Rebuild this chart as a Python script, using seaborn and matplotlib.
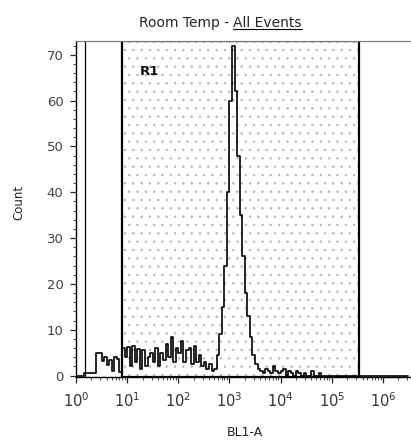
import matplotlib
matplotlib.use("Agg")
import matplotlib.pyplot as plt
import matplotlib.ticker as mticker
from matplotlib.lines import Line2D
import seaborn as sns
import numpy as np

# histogram channels: 20 per decade, from 10^0 to 10^6.5 (log10 units)
bin_width_log = 0.05
bin_range_log = (0.0, 6.5)

# counts, one per channel
counts = [
    0, 0, 0, 0.5, 0.5, 0.5, 0.5, 0.5, 5, 5,
    3.2, 4, 2.4, 3.4, 1, 4, 3.6, 0.8, 6, 4,
    6.2, 2, 6.5, 3, 5.8, 1.5, 5.5, 2, 4, 5,
    3, 6, 2, 5, 3.5, 7, 4, 8.5, 3, 6,
    5, 7.5, 3, 5.5, 6, 2.5, 6.5, 3, 4.5, 2,
    3, 1.5, 2.5, 1, 1.5, 4.5, 9, 15, 24, 40,
    60, 72, 62, 48, 35, 26, 18, 13, 8.5, 4.5,
    2.5, 1.5, 1, 0.5, 1.5, 1, 0.5, 2, 1, 0.5,
    1, 1.5, 0, 1, 0.5, 0, 1, 0.5, 0, 0.5,
    0, 0, 1, 0, 0, 0.5, 0, 0, 0, 0,
    0, 0, 0, 0, 0, 0, 0, 0, 0, 0,
    0, 0, 0, 0, 0, 0, 0, 0, 0, 0,
    0, 0, 0, 0, 0, 0, 0, 0, 0, 0,
]

# gate R1 limits and the extra marker line (BL1-A units)
gate_lo, gate_hi = 7.8, 3.34e5
left_marker = 1.53
gate_name = "R1"

x_major = [1, 10, 100, 1e3, 1e4, 1e5, 1e6]
x_major_labels = [r"$10^{%d}$" % k for k in range(7)]
y_major = [0, 10, 20, 30, 40, 50, 60, 70]

sns.set_style("ticks")
plt.rcParams["font.family"] = ["DejaVu Sans"]
plt.rcParams["hatch.linewidth"] = 0.5

fig = plt.figure(figsize=(4.11, 4.45), dpi=100)
ax = fig.add_axes([76 / 411, 68 / 445, 335 / 411, 336 / 445])

centers = 10 ** (bin_range_log[0] + bin_width_log * (np.arange(len(counts)) + 0.5))
sns.histplot(x=centers, weights=counts, binwidth=bin_width_log, binrange=bin_range_log,
             log_scale=True, element="step", fill=False, color="black", lw=1.2, ax=ax)

ax.set_xlim(10 ** 0.05, 10 ** 6.55)
ax.set_ylim(-0.3, 73)

# gate: stippled fill + black outline
ax.axvspan(gate_lo, gate_hi, facecolor="none", edgecolor="#b4b4b4", hatch="..", lw=0)
ax.axvspan(gate_lo, gate_hi, facecolor="none", edgecolor="black", lw=1.6)
ax.axvline(left_marker, color="black", lw=0.9)
ax.text(18, 66.3, gate_name, fontsize=9.5, fontweight="bold", ha="left", va="center",
        color="#111111")

# axes styling
ax.set_xticks(x_major)
ax.set_xticklabels(x_major_labels, fontsize=10.5, color="#333333")
ax.xaxis.set_minor_locator(mticker.LogLocator(base=10, subs=np.arange(2, 10)))
ax.xaxis.set_minor_formatter(mticker.NullFormatter())
ax.set_yticks(y_major)
ax.set_yticklabels([str(v) for v in y_major], fontsize=9.5, color="#444444")
ax.yaxis.set_minor_locator(mticker.MultipleLocator(2))
ax.tick_params(axis="both", which="major", length=4, width=0.9, direction="out")
ax.tick_params(axis="x", which="major", pad=6)
ax.tick_params(axis="y", which="major", pad=5)
ax.tick_params(axis="both", which="minor", length=2, width=0.6, direction="out")
ax.set_xlabel("")
ax.set_ylabel("")

ax.spines["right"].set_visible(False)
ax.spines["top"].set_color("#777777")
ax.spines["top"].set_linewidth(0.8)
for side in ["left", "bottom"]:
    ax.spines[side].set_color("black")
    ax.spines[side].set_linewidth(1.0)

fig.text(19 / 411, 1 - 202 / 445, "Count", rotation=90, fontsize=8.5,
         ha="center", va="center", color="#222222")
fig.text(245 / 411, 1 - 433 / 445, "BL1-A", fontsize=9, ha="center", va="center",
         color="#222222")

# title with underlined second part
t1 = fig.text(233 / 411, 1 - 23 / 445, "Room Temp - ", fontsize=10, ha="right", va="center")
t2 = fig.text(233 / 411, 1 - 23 / 445, "All Events", fontsize=10, ha="left", va="center")
fig.canvas.draw()
bb = t2.get_window_extent().transformed(fig.transFigure.inverted())
fig.add_artist(Line2D([bb.x0, bb.x1], [bb.y0 + 0.002, bb.y0 + 0.002],
                      transform=fig.transFigure, color="black", lw=0.8))

fig.savefig("out.png", dpi=100)
